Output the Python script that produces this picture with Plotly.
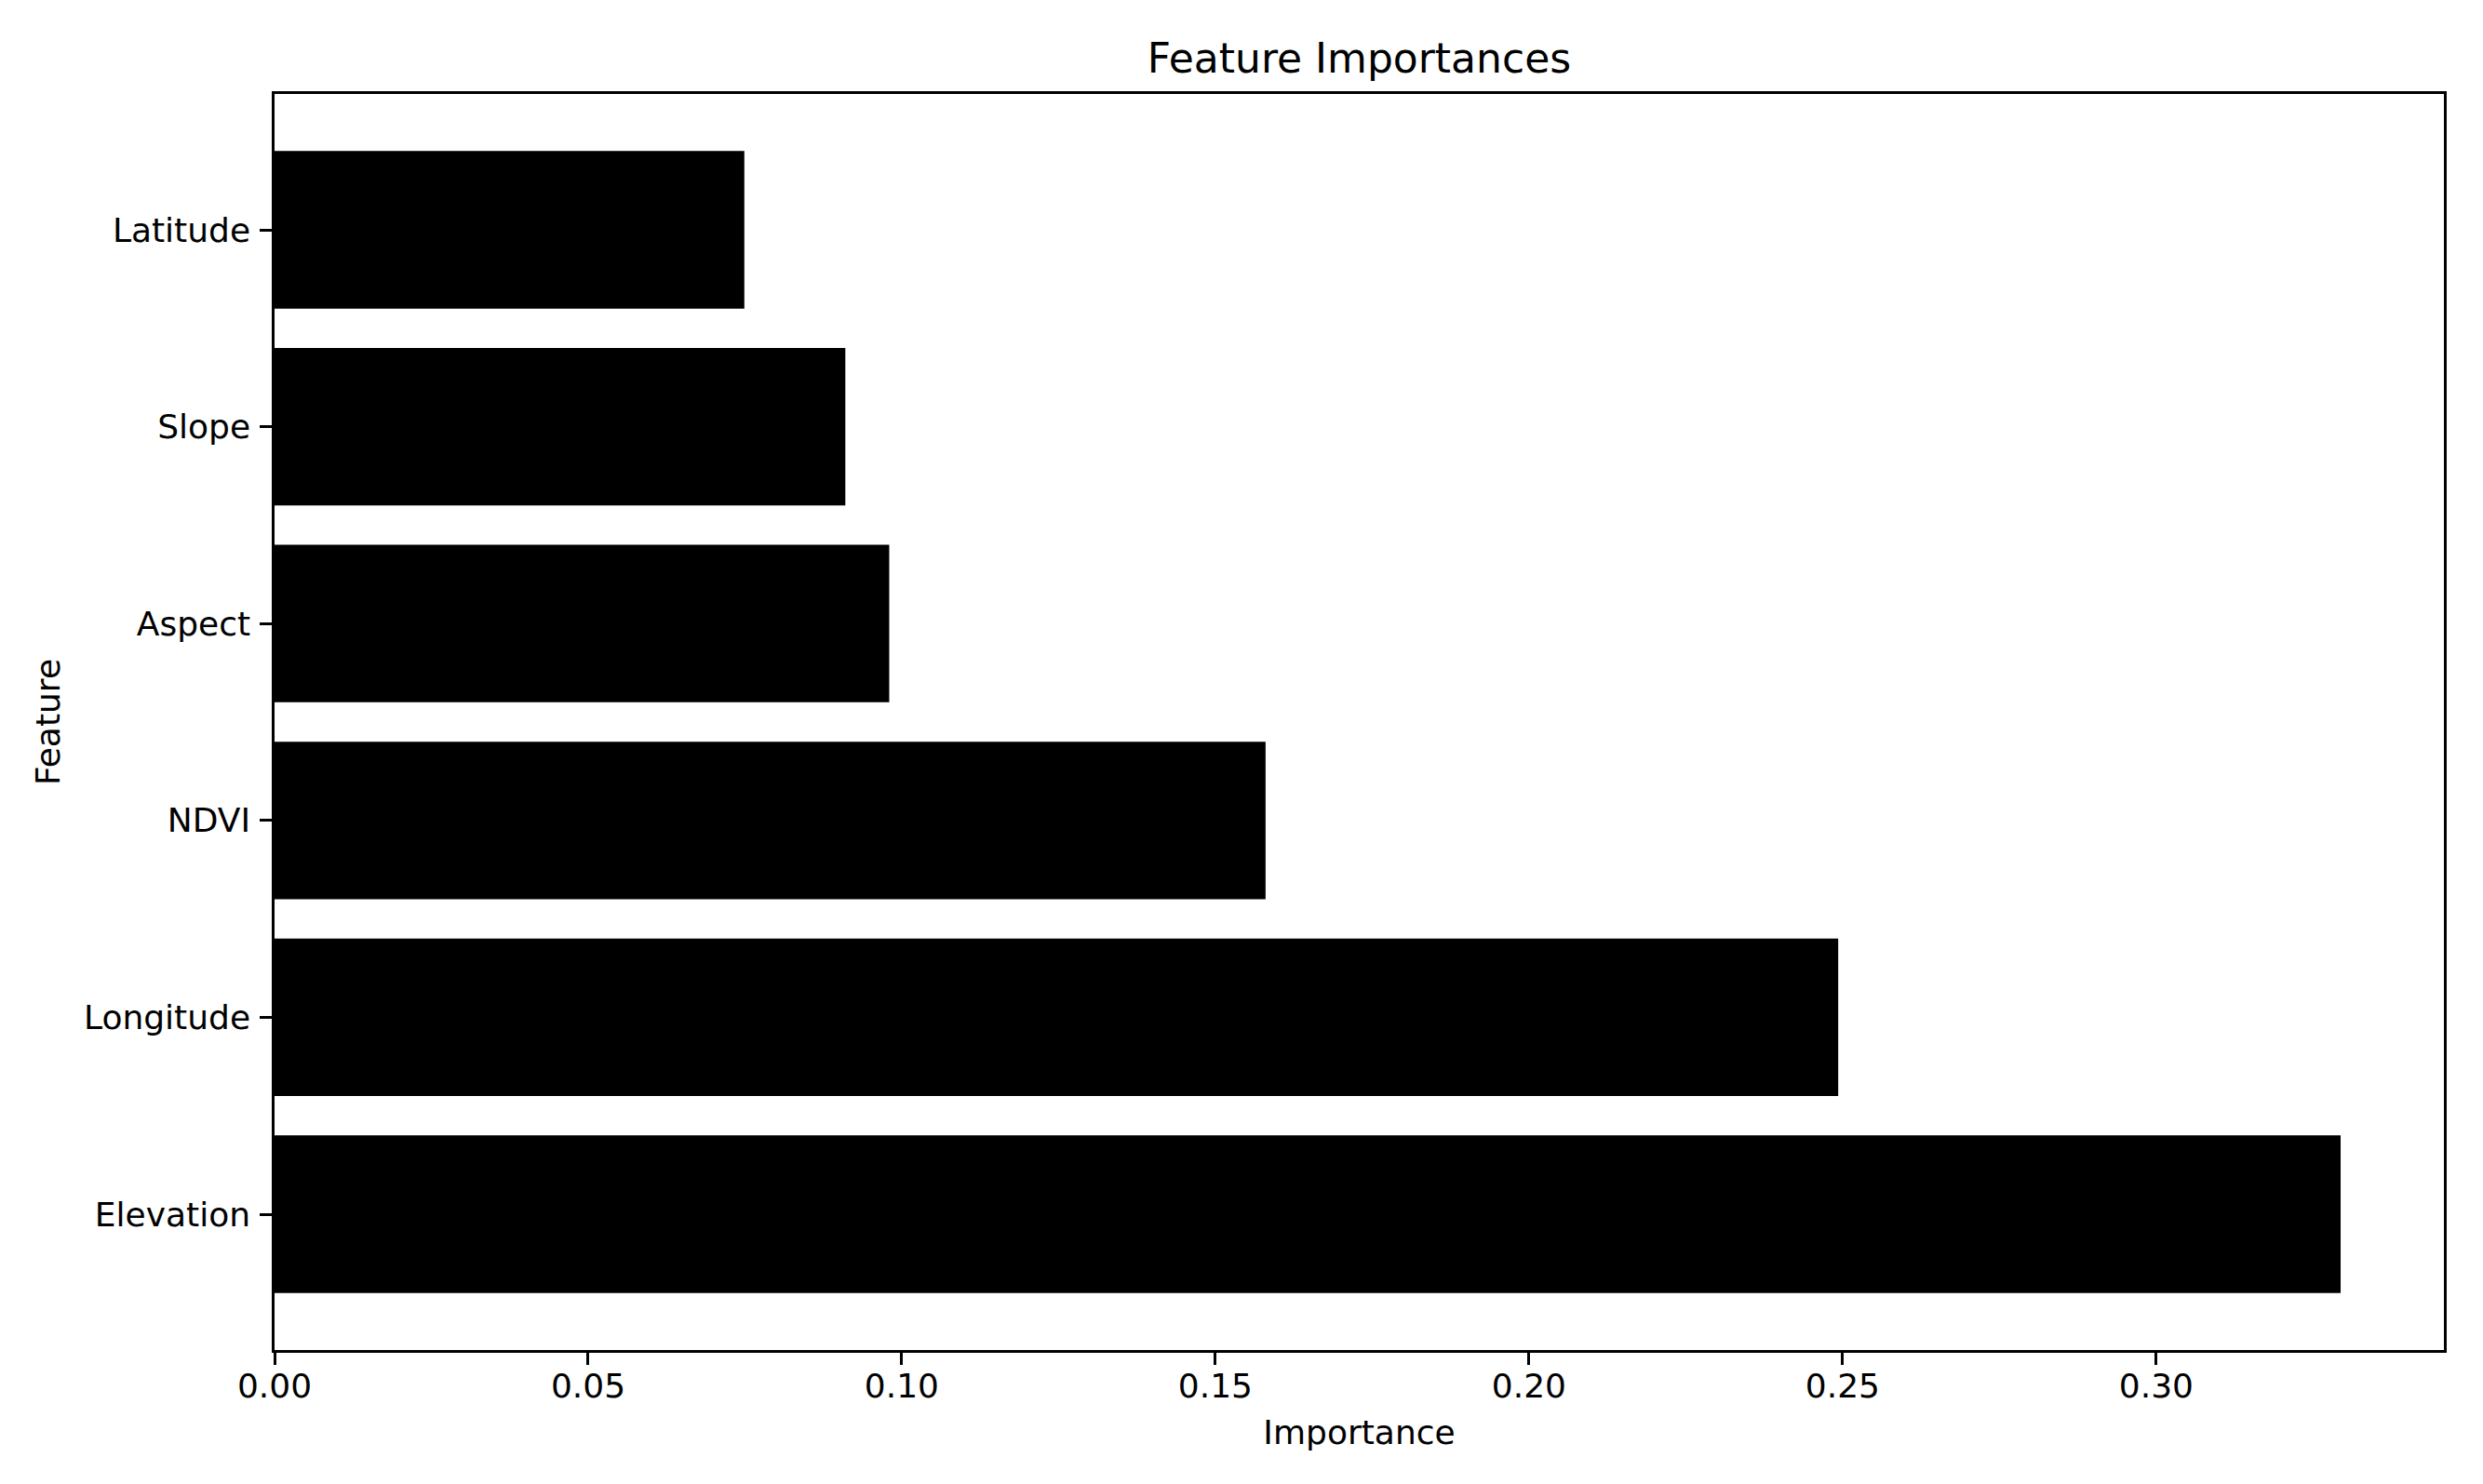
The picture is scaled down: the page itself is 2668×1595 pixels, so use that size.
import plotly.graph_objects as go

features = ["Elevation", "Longitude", "NDVI", "Aspect", "Slope", "Latitude"]
importances = [0.3294, 0.2493, 0.1580, 0.0980, 0.0910, 0.0749]
x_ticks = [0.00, 0.05, 0.10, 0.15, 0.20, 0.25, 0.30]
x_tick_labels = ["0.00", "0.05", "0.10", "0.15", "0.20", "0.25", "0.30"]

# page body has an 8px default margin; compensate so the screenshot matches
W, H = 2652, 1579
FONT = "DejaVu Sans"

fig = go.Figure(go.Bar(
    x=importances, y=features, orientation="h",
    width=0.8, marker=dict(color="black", line=dict(width=0)),
))

xmax = max(importances) * 1.05
fig.update_layout(
    width=W, height=H,
    margin=dict(l=287, r=34, t=93, b=136),
    paper_bgcolor="white", plot_bgcolor="white",
    font=dict(family=FONT, size=36, color="black"),
    showlegend=False,
    title=dict(text="Feature Importances", x=0.5, xref="paper", xanchor="center",
               y=1 - 55 / H, yref="container", yanchor="middle",
               font=dict(family=FONT, size=44, color="black")),
    bargap=0.2,
)
fig.update_xaxes(
    range=[0, xmax], tickvals=x_ticks, ticktext=x_tick_labels,
    showgrid=False, zeroline=False, showline=True, linecolor="black", linewidth=2.5,
    mirror=True, ticks="outside", ticklen=13, tickwidth=2.5, tickcolor="black",
    ticklabelstandoff=-8,
    tickfont=dict(family=FONT, size=36, color="black"),
    title=dict(text="Importance", font=dict(family=FONT, size=36, color="black"), standoff=18),
)
fig.update_yaxes(
    type="category", categoryorder="array", categoryarray=features,
    range=[-0.69, 5.69],
    showgrid=False, zeroline=False, showline=True, linecolor="black", linewidth=2.5,
    mirror=True, ticks="outside", ticklen=13, tickwidth=2.5, tickcolor="black",
    ticklabelstandoff=3,
    tickfont=dict(family=FONT, size=36, color="black"),
    title=dict(text="Feature", font=dict(family=FONT, size=36, color="black"), standoff=15),
)

fig.write_html("out.html")
